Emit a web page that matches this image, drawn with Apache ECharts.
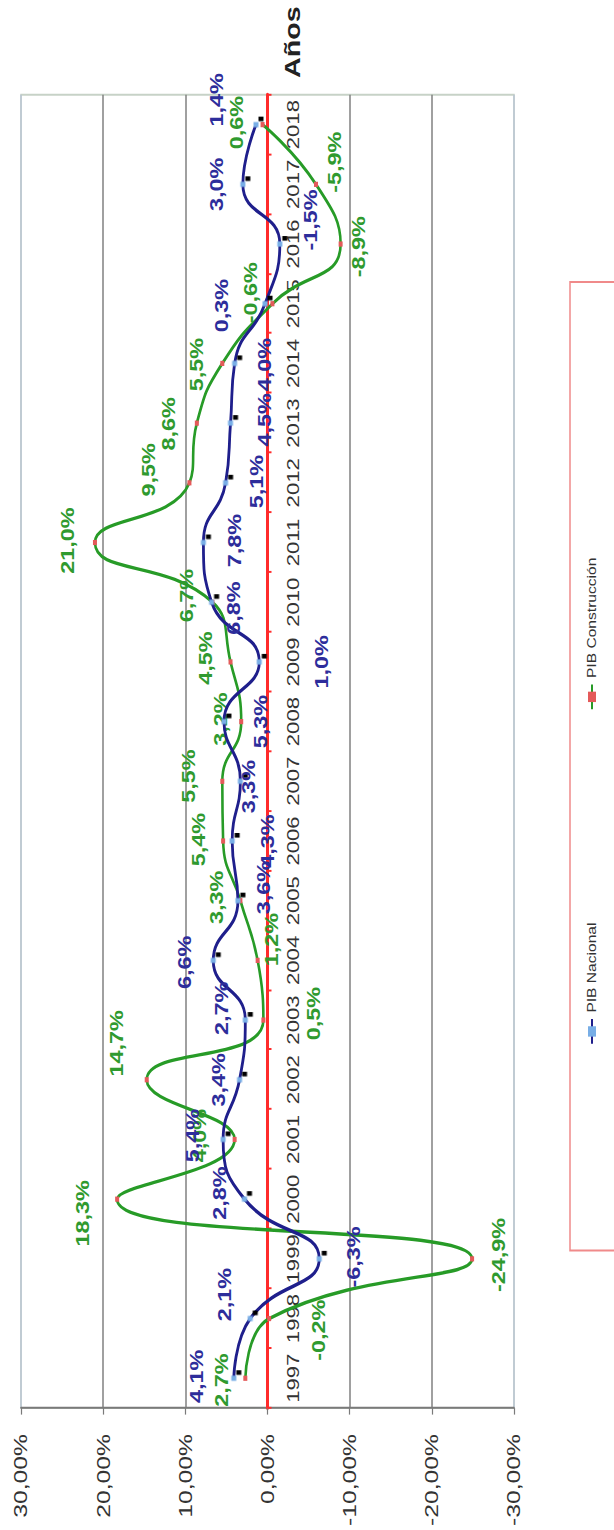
<!DOCTYPE html>
<html>
<head>
<meta charset="utf-8">
<title>PIB Nacional y PIB Construcción</title>
<script src="https://cdn.jsdelivr.net/npm/echarts@6/dist/echarts.min.js"></script>
<style>
  html, body { margin: 0; padding: 0; background: #fff; width: 614px; height: 1530px; overflow: hidden; }
  /* The chart is laid out landscape and turned a quarter turn so the years run upward */
  #chart {
    position: absolute; left: 0; top: 0;
    width: 1177px; height: 614px;
    transform-origin: 0 0;
    transform: translate(0, 1530px) rotate(-90deg) scaleX(1.3);
  }
</style>
</head>
<body>
<div id="chart"></div>
<script>
// ---- data ----
const years = ['1997', '1998', '1999', '2000', '2001', '2002', '2003', '2004', '2005', '2006', '2007',
               '2008', '2009', '2010', '2011', '2012', '2013', '2014', '2015', '2016', '2017', '2018'];

const pibNacional = [4.1, 2.1, -6.3, 2.8, 5.4, 3.4, 2.7, 6.6, 3.6, 4.3, 3.3,
                     5.3, 1.0, 6.8, 7.8, 5.1, 4.5, 4.0, 0.3, -1.5, 3.0, 1.4];

const pibConstruccion = [2.7, -0.2, -24.9, 18.3, 4.0, 14.7, 0.5, 1.2, 3.3, 5.4, 5.5,
                         3.2, 4.5, 6.7, 21.0, 9.5, 8.6, 5.5, -0.6, -8.9, -5.9, 0.6];

const valueMin = -30;
const valueMax = 30;
const valueStep = 10;

// ---- label placement: [along the year axis, across the value axis] ----
const nacionalLabelShift = [
  [1.5, -37], [18.5, -26], [1.5, 34], [4.6, -25], [3, -31], [0, -21], [9, -24], [-1.5, -29],
  [10, 26], [0, 35], [-4, 8], [0, 37], [0, 62], [-4.6, 22], [1.5, 31], [1, 31], [2.5, 34],
  [-1, 30], [-1.5, -44], [18.5, 31], [0, -26], [19, -39]
];
const construccionLabelShift = [
  [-1.5, -24], [-9, 49], [3, 26], [-11, -35], [3, -35], [28, -30], [5, 50], [16, 14],
  [2.5, -24], [1, -25], [4, -34], [2, -21], [3, -25], [5, -26], [1.5, -27], [10, -41],
  [-0.5, -28], [-1, -26], [8.5, -22], [-2, 18], [17, 19], [1.5, -26]
];

// ---- layout ----
const GRID = { left: 85, right: 73, top: 21, bottom: 100 };
const GRID_HEIGHT = 614 - GRID.top - GRID.bottom;
// lift the year axis from the grid edge up to the 0 % line
const zeroLift = -GRID_HEIGHT * (0 - valueMin) / (valueMax - valueMin);

const FONT = 'Arial, "Liberation Sans", Helvetica, sans-serif';
const pct1 = v => v.toFixed(1).replace('.', ',') + '%';
const pct2 = v => v.toFixed(2).replace('.', ',') + '%';

function withLabels(values, shifts) {
  return values.map((v, i) => ({ value: v, label: { offset: shifts[i] } }));
}

const chart = echarts.init(document.getElementById('chart'), null, { renderer: 'svg' });

chart.setOption({
  animation: false,
  backgroundColor: '#ffffff',
  title: {
    text: 'Años',
    left: 1112, top: 276,
    textStyle: { fontSize: 22, fontWeight: 'bold', color: '#222', fontFamily: FONT }
  },
  grid: {
    left: GRID.left, right: GRID.right, top: GRID.top, bottom: GRID.bottom,
    show: true,
    borderColor: '#c7d2c7',
    borderWidth: 1.5,
    backgroundColor: 'transparent'
  },
  legend: {
    left: 215, top: 570,
    orient: 'horizontal',
    padding: [16, 212, 24, 158],
    itemGap: 163,
    itemWidth: 19,
    itemHeight: 10,
    borderColor: '#f08a8a',
    borderWidth: 1.5,
    textStyle: { fontSize: 12, color: '#333', fontFamily: FONT },
    data: ['PIB Nacional', 'PIB Construcción']
  },
  xAxis: {
    type: 'category',
    data: years,
    boundaryGap: true,
    position: 'bottom',
    offset: zeroLift,
    axisLine: { show: true, onZero: false, lineStyle: { color: '#ff2b2b', width: 3 } },
    axisTick: { show: true, length: 4, lineStyle: { color: '#ff2b2b', width: 1.5 } },
    axisLabel: { interval: 0, margin: 17, fontSize: 17, color: '#333', fontFamily: FONT },
    splitLine: { show: false }
  },
  yAxis: {
    type: 'value',
    min: valueMin, max: valueMax, interval: valueStep,
    axisLine: { show: true, onZero: false, lineStyle: { color: '#7a7a7a', width: 1.5 } },
    axisTick: { show: true, length: 5, lineStyle: { color: '#7a7a7a', width: 1.2 } },
    axisLabel: { formatter: pct2, fontSize: 19, color: '#333', margin: 20, fontFamily: FONT },
    splitLine: {
      show: true,
      lineStyle: {
        color: ['#b9c4d2', '#808080', '#808080', '#808080', '#808080', '#808080', '#b9c4d2'],
        width: 1.5
      }
    }
  },
  series: [
    {
      name: 'PIB Nacional',
      type: 'line',
      smooth: 0.5,
      data: withLabels(pibNacional, nacionalLabelShift),
      symbol: 'rect',
      symbolSize: [4, 5],
      showAllSymbol: true,
      lineStyle: { color: '#1f1f8c', width: 2.8 },
      itemStyle: {
        color: '#78aee6',
        shadowColor: '#000',
        shadowBlur: 0,
        shadowOffsetX: 4.6,
        shadowOffsetY: 5
      },
      label: {
        show: true,
        position: 'inside',
        formatter: p => pct1(p.value),
        color: '#2d2d9b',
        fontSize: 18,
        fontWeight: 'bold',
        fontFamily: FONT
      },
      z: 3
    },
    {
      name: 'PIB Construcción',
      type: 'line',
      smooth: 0.5,
      data: withLabels(pibConstruccion, construccionLabelShift),
      symbol: 'rect',
      symbolSize: [4, 4],
      showAllSymbol: true,
      lineStyle: { color: '#279b27', width: 2.6 },
      itemStyle: { color: '#e45a5a' },
      label: {
        show: true,
        position: 'inside',
        formatter: p => pct1(p.value),
        color: '#2f9a2f',
        fontSize: 18,
        fontWeight: 'bold',
        fontFamily: FONT
      },
      z: 2
    }
  ]
});
</script>
</body>
</html>
